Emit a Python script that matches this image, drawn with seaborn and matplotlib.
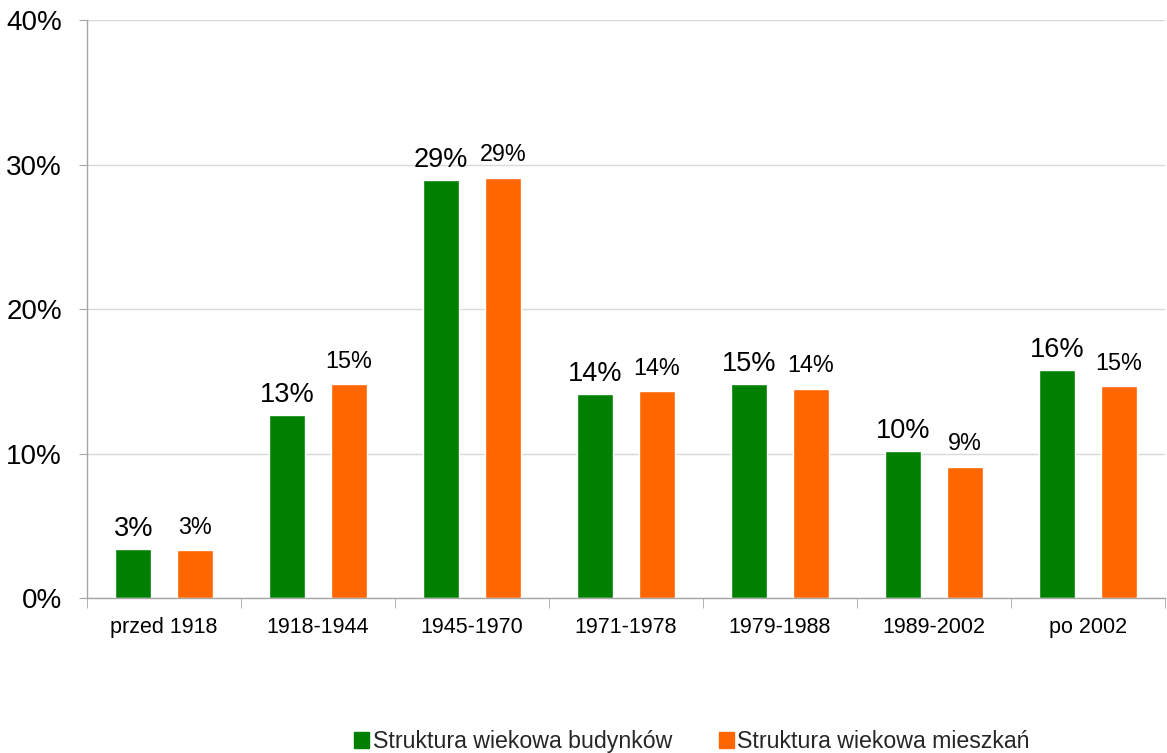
import numpy as np
import pandas as pd
import matplotlib
matplotlib.use("Agg")
import matplotlib.pyplot as plt
import seaborn as sns
from matplotlib.ticker import FixedLocator, FuncFormatter

# -- data
periods = ["przed 1918", "1918-1944", "1945-1970", "1971-1978",
           "1979-1988", "1989-2002", "po 2002"]
budynki = [3.4, 12.7, 28.9, 14.1, 14.8, 10.2, 15.8]
mieszkania = [3.3, 14.8, 29.1, 14.3, 14.5, 9.1, 14.7]
series = ["Struktura wiekowa budynków", "Struktura wiekowa mieszkań"]
colors = ["#008000", "#FF6600"]

df = pd.DataFrame({
    "okres": periods * 2,
    "udzial": budynki + mieszkania,
    "seria": [series[0]] * len(periods) + [series[1]] * len(periods),
})

sns.set_style("white")
plt.rcParams["font.family"] = ["Liberation Sans", "DejaVu Sans"]

fig = plt.figure(figsize=(11.67, 7.53), dpi=100)
ax = fig.add_axes([0.0746, 0.2058, 0.9237, 0.7676])

sns.barplot(data=df, x="okres", y="udzial", hue="seria", palette=colors,
            width=0.8, gap=0.415, saturation=1, ax=ax, legend=True)

ax.set_ylim(0, 40)
ax.set_xlim(-0.5, len(periods) - 0.5)
ax.set_yticks([0, 10, 20, 30, 40])
ax.yaxis.set_major_formatter(FuncFormatter(lambda v, p: f"{v:.0f}%"))
ax.grid(axis="y", color="#d9d9d9", lw=1)
ax.set_axisbelow(True)
ax.set_xlabel("")
ax.set_ylabel("")

for s in ["top", "right"]:
    ax.spines[s].set_visible(False)
for s in ["left", "bottom"]:
    ax.spines[s].set_color("#a6a6a6")
    ax.spines[s].set_linewidth(1)

ax.tick_params(axis="y", labelsize=20, length=6, color="#a6a6a6", left=True,
               pad=12, labelcolor="black")
ax.tick_params(axis="x", which="major", length=0, labelsize=15.5, pad=14,
               labelcolor="black")
ax.xaxis.set_minor_locator(FixedLocator(np.arange(-0.5, len(periods), 1.0)))
ax.tick_params(axis="x", which="minor", length=7, color="#a6a6a6", bottom=True)

# -- data labels
ax.bar_label(ax.containers[0], labels=[f"{v:.0f}%" for v in budynki],
             padding=5, fontsize=19.5, color="black")
ax.bar_label(ax.containers[1], labels=[f"{v:.0f}%" for v in mieszkania],
             padding=8, fontsize=16.8, color="black")

# -- legend at the bottom
ax.get_legend().remove()
handles = [plt.Rectangle((0, 0), 1, 1, color=c) for c in colors]
fig.legend(handles, series, loc="center", bbox_to_anchor=(0.593, 0.015),
           ncol=2, frameon=False, fontsize=16.7, handlelength=0.65,
           handleheight=0.65, handletextpad=0.15, columnspacing=2.0)

fig.savefig("out.png", dpi=100)
